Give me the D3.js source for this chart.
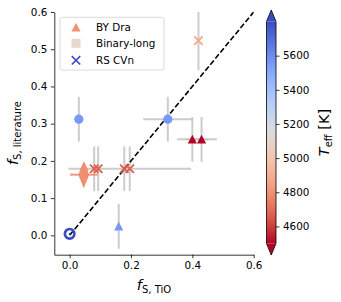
<!DOCTYPE html>
<html>
<head>
<meta charset="utf-8">
<script src="https://cdn.jsdelivr.net/npm/d3@7"></script>
<style>
  body { margin: 0; background: #fff; }
  text { font-family: "DejaVu Sans", sans-serif; }
</style>
</head>
<body>
<svg id="chart" width="341" height="302"></svg>
<script>
// values
var xTicks = [0, 0.2, 0.4, 0.6];
var yTicks = [0, 0.1, 0.2, 0.3, 0.4, 0.5, 0.6];
var cbTicks = [4600, 4800, 5000, 5200, 5400, 5600];
var oneToOne = [0, 0.6];

// kind: circle, BY Dra (triangle), RS CVn (cross), diamond
var kinds = ['circle', 'circle', 'tri', 'tri', 'tri', 'tri',
             'cross', 'cross', 'cross', 'cross', 'cross', 'diamond'];
var fTio  = [0.03, 0.32, 0.40, 0.43, 0.16, 0.047, 0.42, 0.08, 0.093, 0.178, 0.196, 0.046];
var fLit  = [0.312, 0.312, 0.258, 0.258, 0.024, 0.185, 0.523, 0.179, 0.179, 0.179, 0.179, 0.163];
var xErr  = [0, 0.08, 0.05, 0.05, 0, 0, 0, 0, 0, 0, 0.2, 0.045];
var yErr  = [0.06, 0.06, 0.06, 0.06, 0.06, 0, 0.08, 0.06, 0.06, 0.06, 0.06, 0];
var teff  = [5560, 5560, 4450, 4450, 5560, 4790, 4880, 4660, 4660, 4660, 4660, 4790];
var sun = [0, 0.004];

var legendLabels = ['BY Dra', 'Binary-long', 'RS CVn'];

var svg = d3.select('#chart');

var x = d3.scaleLinear().domain([-0.05, 0.6]).range([54.3, 253.7]);
var y = d3.scaleLinear().domain([-0.052, 0.6]).range([254.7, 12]);

// reversed coolwarm
var cw = ['#3b4cc0', '#6282ea', '#8db0fe', '#b8d0f9', '#dddcdc',
          '#f5c4ad', '#f49a7b', '#de604d', '#b40426'];
var tmin = 4500, tmax = 5800;
var color = d3.scaleLinear()
    .domain(d3.range(cw.length).map(function(i) { return tmax - i * (tmax - tmin) / (cw.length - 1); }))
    .range(cw)
    .interpolate(d3.interpolateRgb)
    .clamp(true);

svg.append('clipPath').attr('id', 'clip')
  .append('rect').attr('x', 54.3).attr('y', 12).attr('width', 199.4).attr('height', 242.7);

var plot = svg.append('g').attr('clip-path', 'url(#clip)');

var pts = d3.range(kinds.length).map(function(i) {
    return {kind: kinds[i], x: fTio[i], y: fLit[i], xe: xErr[i], ye: yErr[i], t: teff[i]};
});

// error bars
var eb = plot.append('g');
pts.forEach(function(d) {
    var c = d.kind === 'diamond' ? color(d.t) : '#c4c4c4';
    var op = d.kind === 'diamond' ? 0.9 : 0.85;
    if(d.ye) {
        eb.append('line')
            .attr('x1', x(d.x)).attr('x2', x(d.x))
            .attr('y1', y(d.y - d.ye)).attr('y2', y(d.y + d.ye))
            .attr('stroke', c).attr('stroke-width', 2).attr('opacity', op);
    }
    if(d.xe) {
        eb.append('line')
            .attr('x1', x(d.x - d.xe)).attr('x2', x(d.x + d.xe))
            .attr('y1', y(d.y)).attr('y2', y(d.y))
            .attr('stroke', c).attr('stroke-width', 2).attr('opacity', op);
    }
});

// 1:1 line
plot.append('path')
    .datum(oneToOne)
    .attr('d', d3.line().x(function(v) { return x(v); }).y(function(v) { return y(v); }))
    .attr('fill', 'none')
    .attr('stroke', '#000')
    .attr('stroke-width', 1.6)
    .attr('stroke-dasharray', '5.5,2.4');

function markerPath(kind) {
    if(kind === 'tri') return 'M0,-4.6L-4.6,4.2L4.6,4.2Z';
    if(kind === 'diamond') return 'M0,-13.5L5.4,0L0,13.5L-5.4,0Z';
    if(kind === 'cross') return 'M-4.2,-4.2L4.2,4.2M-4.2,4.2L4.2,-4.2';
    return null;
}

var mk = plot.append('g');
pts.forEach(function(d) {
    var g = mk.append('g').attr('transform', 'translate(' + x(d.x) + ',' + y(d.y) + ')');
    if(d.kind === 'circle') {
        g.append('circle').attr('r', 4.6).attr('fill', color(d.t));
    } else if(d.kind === 'cross') {
        g.append('path').attr('d', markerPath('cross'))
            .attr('stroke', color(d.t)).attr('stroke-width', 1.8).attr('fill', 'none');
    } else {
        g.append('path').attr('d', markerPath(d.kind)).attr('fill', color(d.t));
    }
});

// the Sun
var sg = plot.append('g').attr('transform', 'translate(' + x(sun[0]) + ',' + y(sun[1]) + ')');
sg.append('circle').attr('r', 4.8).attr('fill', 'none').attr('stroke', '#3b4cc0').attr('stroke-width', 2.6);
sg.append('circle').attr('r', 1).attr('fill', '#3b4cc0');

// axes
var xAxis = svg.append('g')
    .attr('transform', 'translate(0,254.7)')
    .call(d3.axisBottom(x).tickValues(xTicks).tickFormat(d3.format('.1f'))
        .tickSize(3.5).tickPadding(3.5).tickSizeOuter(0));
var yAxis = svg.append('g')
    .attr('transform', 'translate(54.3,0)')
    .call(d3.axisLeft(y).tickValues(yTicks).tickFormat(d3.format('.1f'))
        .tickSize(3.5).tickPadding(3.5).tickSizeOuter(0));
[xAxis, yAxis].forEach(function(a) {
    a.selectAll('text').attr('font-size', '10.4px').attr('fill', '#000')
        .attr('font-family', '"DejaVu Sans", sans-serif');
    a.selectAll('line').attr('stroke', '#000').attr('stroke-width', 0.8);
    a.select('.domain').attr('stroke', '#000').attr('stroke-width', 0.8);
});

// axis labels
var xl = svg.append('text').attr('x', 154).attr('y', 290).attr('text-anchor', 'middle').attr('font-size', '14.5px');
xl.append('tspan').attr('font-style', 'italic').text('f');
xl.append('tspan').attr('font-size', '10px').attr('dy', 3).text('S, TiO');

var yl = svg.append('text').attr('transform', 'translate(18,133) rotate(-90)')
    .attr('text-anchor', 'middle').attr('font-size', '14.5px');
yl.append('tspan').attr('font-style', 'italic').text('f');
yl.append('tspan').attr('font-size', '10px').attr('dy', 3).text('S, literature');

// legend
var lg = svg.append('g');
lg.append('rect').attr('x', 60).attr('y', 17.3).attr('width', 104).attr('height', 52.7)
    .attr('rx', 2.5).attr('fill', '#fff').attr('fill-opacity', 0.8)
    .attr('stroke', '#d0d0d0').attr('stroke-width', 0.8);
var legendY = [27.3, 43.3, 60.3];
lg.append('path').attr('transform', 'translate(76,' + legendY[0] + ')')
    .attr('d', markerPath('tri')).attr('fill', '#f29272');
lg.append('rect').attr('x', 71.5).attr('y', legendY[1] - 4.5).attr('width', 9).attr('height', 9)
    .attr('fill', '#e8d8ce');
lg.append('path').attr('transform', 'translate(76,' + legendY[2] + ')')
    .attr('d', markerPath('cross')).attr('stroke', '#3b4cc0').attr('stroke-width', 1.6);
legendLabels.forEach(function(l, i) {
    lg.append('text').attr('x', 96).attr('y', legendY[i] + 3.8)
        .attr('font-size', '10.4px').text(l);
});

// colorbar
var cbX = 266.5, cbW = 9.5, cbTop = 21.5, cbBot = 243.5;
var cy = d3.scaleLinear().domain([tmin, tmax]).range([cbBot, cbTop]);
var cb = svg.append('g');
var grad = svg.append('defs').append('linearGradient').attr('id', 'cbgrad')
    .attr('x1', 0).attr('y1', 1).attr('x2', 0).attr('y2', 0);
d3.range(0, 1.0001, 0.05).forEach(function(f) {
    grad.append('stop').attr('offset', f).attr('stop-color', color(tmin + f * (tmax - tmin)));
});
cb.append('rect').attr('x', cbX).attr('y', cbTop).attr('width', cbW).attr('height', cbBot - cbTop)
    .attr('fill', 'url(#cbgrad)');
cb.append('path').attr('d', 'M' + cbX + ',' + cbTop + 'L' + (cbX + cbW / 2) + ',10L' + (cbX + cbW) + ',' + cbTop + 'Z')
    .attr('fill', color(tmax + 100));
cb.append('path').attr('d', 'M' + cbX + ',' + cbBot + 'L' + (cbX + cbW / 2) + ',255L' + (cbX + cbW) + ',' + cbBot + 'Z')
    .attr('fill', color(tmin - 100));
cb.append('path')
    .attr('d', 'M' + cbX + ',' + cbTop + 'L' + (cbX + cbW / 2) + ',10L' + (cbX + cbW) + ',' + cbTop +
        'L' + (cbX + cbW) + ',' + cbBot + 'L' + (cbX + cbW / 2) + ',255L' + cbX + ',' + cbBot + 'Z')
    .attr('fill', 'none').attr('stroke', '#000').attr('stroke-width', 0.8);
var cAxis = svg.append('g').attr('transform', 'translate(' + (cbX + cbW) + ',0)')
    .call(d3.axisRight(cy).tickValues(cbTicks).tickFormat(d3.format('d'))
        .tickSize(3.5).tickPadding(3.5).tickSizeOuter(0));
cAxis.select('.domain').remove();
cAxis.selectAll('text').attr('font-size', '10.4px').attr('fill', '#000')
    .attr('font-family', '"DejaVu Sans", sans-serif');
cAxis.selectAll('line').attr('stroke', '#000').attr('stroke-width', 0.8);

var cl = svg.append('text').attr('transform', 'translate(329,132.5) rotate(-90)')
    .attr('text-anchor', 'middle').attr('font-size', '14.5px');
cl.append('tspan').attr('font-style', 'italic').text('T');
cl.append('tspan').attr('font-size', '10px').attr('dy', 3).text('eff');
cl.append('tspan').attr('dy', -3).text(' [K]');
</script>
</body>
</html>
